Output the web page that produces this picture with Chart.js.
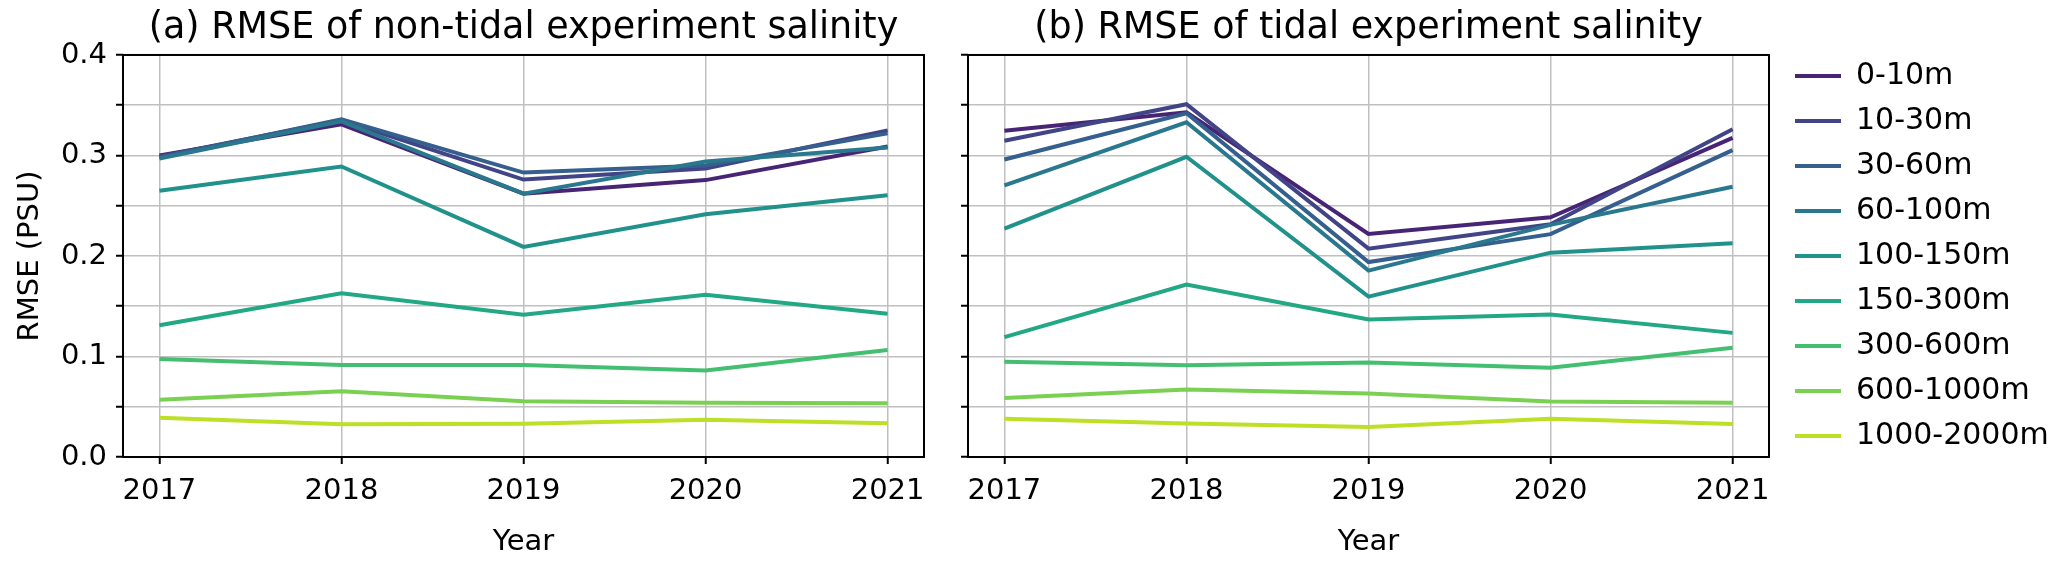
<!DOCTYPE html>
<html>
<head>
<meta charset="utf-8">
<title>RMSE of salinity</title>
<script src="https://cdn.jsdelivr.net/npm/chart.js@4.4.1/dist/chart.umd.min.js"></script>
<style>
  html, body { margin: 0; padding: 0; background: #fff; }
  #wrap { position: relative; width: 2067px; height: 565px; overflow: hidden; background: #fff; }
  .panel { position: absolute; top: 0; height: 565px; }
  #boxA { left: 0; width: 964px; }
  #boxB { left: 900px; width: 1167px; }
</style>
</head>
<body>
<div id="wrap">
  <div class="panel" id="boxA"><canvas id="chartA"></canvas></div>
  <div class="panel" id="boxB"><canvas id="chartB"></canvas></div>
</div>
<script>
// Data
const years = [2017, 2018, 2019, 2020, 2021];
const depthLabels = ['0-10m', '10-30m', '30-60m', '60-100m', '100-150m', '150-300m', '300-600m', '600-1000m', '1000-2000m'];
// viridis, 0.1 .. 0.9
const lineColors = ['#482475', '#414487', '#355f8d', '#2a788e', '#21918c', '#22a884', '#44bf70', '#7ad151', '#bddf26'];
const yTicks = [0.0, 0.1, 0.2, 0.3, 0.4];

// (a) non-tidal experiment, one row per depth layer
const nonTidalRmse = [
    [0.300, 0.331, 0.262, 0.2755, 0.309],
    [0.299, 0.335, 0.276, 0.287, 0.325],
    [0.298, 0.336, 0.283, 0.290, 0.322],
    [0.297, 0.334, 0.262, 0.294, 0.308],
    [0.265, 0.289, 0.209, 0.2415, 0.2605],
    [0.131, 0.163, 0.1415, 0.1615, 0.1425],
    [0.0975, 0.0915, 0.0915, 0.086, 0.1065],
    [0.057, 0.0655, 0.0555, 0.054, 0.0535],
    [0.039, 0.0325, 0.033, 0.037, 0.0335]
];

// (b) tidal experiment
const tidalRmse = [
    [0.3245, 0.343, 0.222, 0.2385, 0.3176],
    [0.3146, 0.351, 0.2073, 0.2315, 0.3262],
    [0.296, 0.342, 0.194, 0.2217, 0.3053],
    [0.2702, 0.333, 0.1854, 0.231, 0.2689],
    [0.2272, 0.2987, 0.1596, 0.2033, 0.2126],
    [0.1192, 0.1715, 0.1368, 0.1417, 0.1235],
    [0.0947, 0.0914, 0.094, 0.0887, 0.1086],
    [0.0586, 0.0672, 0.0632, 0.0553, 0.054],
    [0.0381, 0.0334, 0.0298, 0.0381, 0.0328]
];

Chart.defaults.font.family = 'DejaVu Sans';
Chart.defaults.color = '#000';

const GRID = '#c0c0c0';

// box around the plot area, like matplotlib spines
const framePlugin = {
    id: 'frame',
    afterDatasetsDraw(chart) {
        const { ctx, chartArea: a } = chart;
        ctx.save();
        ctx.strokeStyle = '#000';
        ctx.lineWidth = 2;
        ctx.strokeRect(a.left, a.top, a.right - a.left, a.bottom - a.top);
        ctx.restore();
    }
};

function makeDatasets(rows) {
    return rows.map((row, i) => ({
        label: depthLabels[i],
        data: row.map((v, j) => ({ x: years[j], y: v })),
        borderColor: lineColors[i],
        backgroundColor: lineColors[i],
        borderWidth: 4,
        pointRadius: 0,
        tension: 0,
        fill: false,
        order: -i // later layers on top, as in the original
    }));
}

function xScale() {
    return {
        type: 'linear',
        min: 2016.8,
        max: 2021.2,
        afterBuildTicks: axis => { axis.ticks = years.map(v => ({ value: v })); },
        afterFit: axis => { axis.height = 108; },
        ticks: {
            font: { size: 29 },
            color: '#000',
            padding: 10,
            maxRotation: 0,
            callback: v => String(v)
        },
        grid: { color: GRID, lineWidth: 1.5, tickLength: 7, tickColor: '#000', tickWidth: 2 },
        border: { display: false },
        title: { display: true, text: 'Year', font: { size: 29 }, color: '#000', padding: { top: 0, bottom: 5 } }
    };
}

function yScale(showLabels, width) {
    const s = {
        min: 0,
        max: 0.4,
        afterFit: axis => { axis.width = width; },
        ticks: {
            stepSize: 0.05,
            font: { size: 29 },
            color: '#000',
            padding: 9,
            callback: v => {
                if (!showLabels) return '';
                const hit = yTicks.find(t => Math.abs(t - v) < 1e-6);
                return hit === undefined ? '' : hit.toFixed(1);
            }
        },
        grid: { color: GRID, lineWidth: 1.5, tickLength: 7, tickColor: '#000', tickWidth: 2 },
        border: { display: false }
    };
    if (showLabels) {
        s.title = { display: true, text: 'RMSE (PSU)', font: { size: 29 }, color: '#000', padding: { top: 13, bottom: 0 } };
    }
    return s;
}

function titleOpts(text) {
    return {
        display: true,
        text: text,
        fullSize: false,
        color: '#000',
        font: { size: 36.5, weight: 'normal', lineHeight: 1.15 },
        padding: { top: 8, bottom: 5 }
    };
}

// Panel (a)
new Chart(document.getElementById('chartA'), {
    type: 'line',
    data: { datasets: makeDatasets(nonTidalRmse) },
    options: {
        responsive: true,
        maintainAspectRatio: false,
        animation: false,
        layout: { padding: { left: 0, right: 40, top: 0, bottom: 0 } },
        plugins: {
            title: titleOpts('(a) RMSE of non-tidal experiment salinity'),
            legend: { display: false },
            tooltip: { enabled: false }
        },
        scales: {
            x: xScale(),
            y: yScale(true, 123)
        }
    },
    plugins: [framePlugin]
});

// Panel (b) with the legend
new Chart(document.getElementById('chartB'), {
    type: 'line',
    data: { datasets: makeDatasets(tidalRmse) },
    options: {
        responsive: true,
        maintainAspectRatio: false,
        animation: false,
        layout: { padding: { left: 0, right: 12, top: 0, bottom: 0 } },
        plugins: {
            title: titleOpts('(b) RMSE of tidal experiment salinity'),
            tooltip: { enabled: false },
            legend: {
                position: 'right',
                align: 'start',
                maxWidth: 275,
                title: { display: true, text: '', font: { size: 10 }, padding: { top: 34, bottom: 0 } },
                labels: {
                    boxWidth: 46,
                    boxHeight: 4,
                    padding: 15,
                    color: '#000',
                    font: { size: 30 },
                    sort: (a, b) => a.datasetIndex - b.datasetIndex,
                    generateLabels: chart => Chart.defaults.plugins.legend.labels.generateLabels(chart)
                        .map(item => Object.assign(item, { lineWidth: 0 }))
                }
            }
        },
        scales: {
            x: xScale(),
            y: yScale(false, 68),
            yGap: {
                position: 'right',
                display: true,
                afterFit: axis => { axis.width = 11; },
                ticks: { display: false },
                grid: { display: false, drawTicks: false },
                border: { display: false }
            }
        }
    },
    plugins: [framePlugin]
});
</script>
</body>
</html>
